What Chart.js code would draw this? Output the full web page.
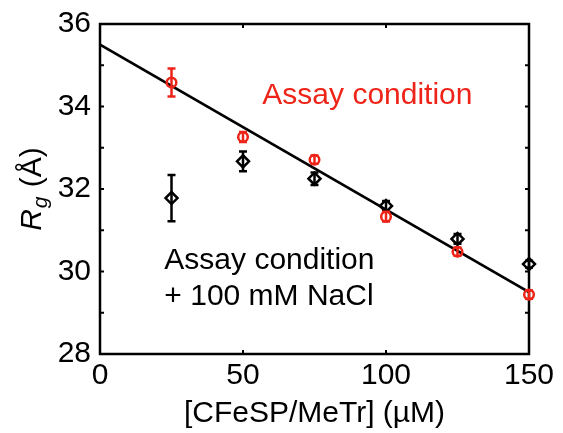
<!DOCTYPE html>
<html>
<head>
<meta charset="utf-8">
<script src="https://cdn.jsdelivr.net/npm/chart.js@4.4.1/dist/chart.umd.min.js"></script>
<style>
html,body{margin:0;padding:0;background:#fff;}
#wrap{width:563px;height:433px;position:relative;}
</style>
</head>
<body>
<div id="wrap"><canvas id="c" width="563" height="433"></canvas></div>
<script>
const concentrations = [25, 50, 75, 100, 125, 150];
const assayRg = [34.58, 33.26, 32.71, 31.33, 30.48, 29.44];
const assayErr = [0.34, 0.12, 0.10, 0.12, 0.10, 0.10];
const naclRg = [31.78, 32.67, 32.25, 31.59, 30.79, 30.18];
const naclErr = [0.56, 0.24, 0.15, 0.12, 0.12, 0.08];
const fitX = [0, 150];
const fitY = [35.5, 29.5];
const xTicks = [0, 50, 100, 150];
const yTicks = [28, 30, 32, 34, 36];

const RED = '#ee2418';
const FONT = '"Liberation Sans", Arial, Helvetica, sans-serif';
const FS = 30;

const toXY = (xs, ys) => xs.map((x, i) => ({x: x, y: ys[i]}));

const errorBars = {
  id: 'errorBars',
  afterDatasetsDraw(chart) {
    const ctx = chart.ctx;
    const xs = chart.scales.x, ys = chart.scales.y;
    chart.data.datasets.forEach(ds => {
      if (!ds.errors) return;
      ctx.save();
      ctx.strokeStyle = ds.borderColor;
      ctx.lineWidth = 2.5;
      ds.data.forEach((p, i) => {
        const e = ds.errors[i];
        const px = xs.getPixelForValue(p.x);
        const y1 = ys.getPixelForValue(p.y + e);
        const y2 = ys.getPixelForValue(p.y - e);
        const cw = 4;
        ctx.beginPath();
        ctx.moveTo(px, y1); ctx.lineTo(px, y2);
        ctx.moveTo(px - cw, y1); ctx.lineTo(px + cw, y1);
        ctx.moveTo(px - cw, y2); ctx.lineTo(px + cw, y2);
        ctx.stroke();
      });
      ctx.restore();
    });
  }
};

const frame = {
  id: 'frame',
  beforeDatasetsDraw(chart) {
    const ctx = chart.ctx;
    const a = chart.chartArea;
    const xs = chart.scales.x, ys = chart.scales.y;
    ctx.save();
    ctx.strokeStyle = '#000';
    ctx.lineWidth = 2.5;
    ctx.strokeRect(a.left, a.top, a.right - a.left, a.bottom - a.top);
    const tl = 4;
    ctx.lineWidth = 2;
    ctx.beginPath();
    for (let v = ys.min; v <= ys.max; v += 1) {
      const py = ys.getPixelForValue(v);
      ctx.moveTo(a.left, py); ctx.lineTo(a.left + tl, py);
      ctx.moveTo(a.right, py); ctx.lineTo(a.right - tl, py);
    }
    xTicks.forEach(v => {
      const px = xs.getPixelForValue(v);
      ctx.moveTo(px, a.bottom); ctx.lineTo(px, a.bottom - tl);
      ctx.moveTo(px, a.top); ctx.lineTo(px, a.top + tl);
    });
    ctx.stroke();
    ctx.restore();
  },
  afterDraw(chart) {
    const ctx = chart.ctx;
    const a = chart.chartArea;
    const xs = chart.scales.x, ys = chart.scales.y;
    ctx.save();
    // annotations
    ctx.textBaseline = 'middle';
    ctx.font = FS + 'px ' + FONT;
    ctx.fillStyle = RED;
    ctx.textAlign = 'center';
    ctx.fillText('Assay condition', xs.getPixelForValue(93.5), ys.getPixelForValue(34.25));
    ctx.fillStyle = '#000';
    ctx.textAlign = 'left';
    ctx.fillText('Assay condition', xs.getPixelForValue(22.5), ys.getPixelForValue(30.27));
    ctx.fillText('+ 100 mM NaCl', xs.getPixelForValue(22.5), ys.getPixelForValue(29.4));

    // y title: R_g (Å)
    const cy = (a.top + a.bottom) / 2;
    ctx.translate(30, cy);
    ctx.rotate(-Math.PI / 2);
    ctx.textAlign = 'left';
    ctx.textBaseline = 'alphabetic';
    const fR = 'italic ' + FS + 'px ' + FONT;
    const fg = 'italic 21px ' + FONT;
    const fN = FS + 'px ' + FONT;
    ctx.font = fR; const wR = ctx.measureText('R').width;
    ctx.font = fg; const wg = ctx.measureText('g').width;
    ctx.font = fN; const wA = ctx.measureText(' (Å)').width;
    const total = wR + wg + 2 + wA;
    let x0 = -total / 2;
    ctx.font = fR; ctx.fillText('R', x0, 11); x0 += wR;
    ctx.font = fg; ctx.fillText('g', x0 + 1, 17); x0 += wg + 2;
    ctx.font = fN; ctx.fillText(' (Å)', x0, 11);
    ctx.restore();
  }
};

new Chart(document.getElementById('c'), {
  type: 'scatter',
  data: {
    datasets: [
      {
        type: 'line',
        data: toXY(fitX, fitY),
        borderColor: '#000',
        borderWidth: 2.8,
        pointRadius: 0,
        fill: false,
        clip: false,
        order: 3
      },
      {
        data: toXY(concentrations, naclRg),
        errors: naclErr,
        pointStyle: 'rectRot',
        pointRadius: 6,
        borderColor: '#000',
        backgroundColor: 'rgba(0,0,0,0)',
        borderWidth: 2.5,
        clip: false,
        order: 2
      },
      {
        data: toXY(concentrations, assayRg),
        errors: assayErr,
        pointStyle: 'circle',
        pointRadius: 4.8,
        borderColor: RED,
        backgroundColor: 'rgba(0,0,0,0)',
        borderWidth: 2.5,
        clip: false,
        order: 1
      }
    ]
  },
  options: {
    responsive: false,
    animation: false,
    events: [],
    layout: { padding: { top: 16, right: 34, left: 0, bottom: 0 } },
    plugins: { legend: { display: false }, tooltip: { enabled: false } },
    scales: {
      x: {
        type: 'linear',
        min: 0, max: 150,
        afterBuildTicks: s => { s.ticks = xTicks.map(v => ({value: v})); },
        afterFit: s => { s.height = 79; },
        grid: { display: false, drawTicks: false },
        border: { display: false },
        ticks: { color: '#000', font: { family: FONT, size: FS, lineHeight: 1 }, padding: 7, maxRotation: 0 },
        title: { display: true, text: '[CFeSP/MeTr] (µM)', color: '#000', font: { family: FONT, size: FS, lineHeight: 1 }, padding: { top: 5 } }
      },
      y: {
        type: 'linear',
        min: 28, max: 36,
        afterBuildTicks: s => { s.ticks = yTicks.map(v => ({value: v})); },
        afterFit: s => { s.width = 100; },
        grid: { display: false, drawTicks: false },
        border: { display: false },
        ticks: { color: '#000', font: { family: FONT, size: FS, lineHeight: 1 }, padding: 9 }
      }
    }
  },
  plugins: [errorBars, frame]
});
</script>
</body>
</html>
